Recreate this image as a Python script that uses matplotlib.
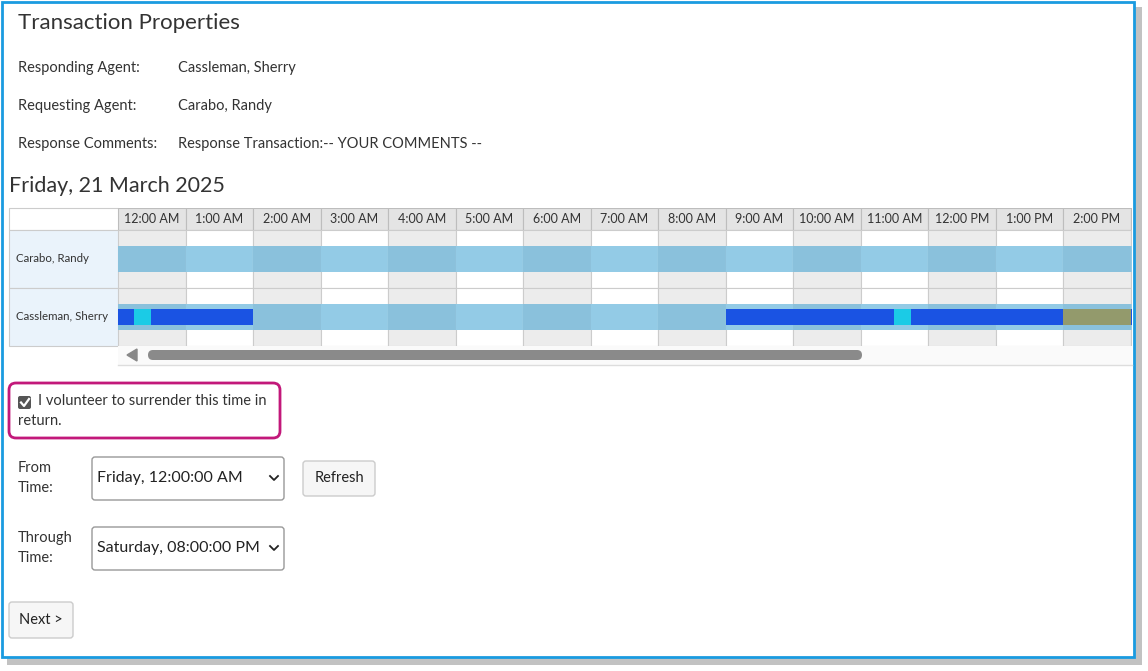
import matplotlib.pyplot as plt
from matplotlib.patches import Rectangle, FancyBboxPatch

plt.rcParams['font.family'] = ['Lato', 'DejaVu Sans']

# data
hour_labels = ['12:00 AM', '1:00 AM', '2:00 AM', '3:00 AM', '4:00 AM', '5:00 AM',
               '6:00 AM', '7:00 AM', '8:00 AM', '9:00 AM', '10:00 AM', '11:00 AM',
               '12:00 PM', '1:00 PM', '2:00 PM', '3:00 PM']
agents = ['Carabo, Randy', 'Cassleman, Sherry']
# (start hour, end hour, colour) for Sherry's shifts
seg_start = [0.0, 0.24, 0.49, 9.0, 11.5, 11.75, 14.0, 15.0]
seg_end = [0.24, 0.49, 2.0, 11.5, 11.75, 14.0, 15.0, 16.0]
seg_color = ['#1a53e3', '#1bcbe6', '#1a53e3', '#1a53e3', '#1bcbe6', '#1a53e3', '#939a6c', '#1a53e3']
props = [('Responding Agent:', 'Cassleman, Sherry'),
         ('Requesting Agent:', 'Carabo, Randy'),
         ('Response Comments:', 'Response Transaction:-- YOUR COMMENTS --')]

W, H = 1148, 671
fig = plt.figure(figsize=(W / 100, H / 100), dpi=100)
ax = fig.add_axes([0, 0, 1, 1])
ax.set_xlim(0, W)
ax.set_ylim(H, 0)
ax.axis('off')

# frame with shadow
ax.add_patch(Rectangle((7, 7), 1135, 658, fc='#a8a8a8', ec='none', alpha=0.7))
ax.add_patch(Rectangle((2, 2), 1132, 655, fc='white', ec='#1a9be0', lw=2))

ax.text(18, 23, 'Transaction Properties', fontsize=16, color='#333', va='center')
for i, (k, v) in enumerate(props):
    y = 68 + i * 38
    ax.text(18, y, k, fontsize=10.5, color='#333', va='center')
    ax.text(178, y, v, fontsize=10.5, color='#333', va='center')
ax.text(9, 186, 'Friday, 21 March 2025', fontsize=15.5, color='#333', va='center')

# left name column
ax.add_patch(Rectangle((9, 208), 109, 22, fc='white', ec='#cccccc', lw=0.8))
for i, a in enumerate(agents):
    y0 = 230 + i * 58
    ax.add_patch(Rectangle((9, y0), 109, 58, fc='#eaf3fb', ec='#cccccc', lw=0.8))
    ax.text(16, y0 + 29, a, fontsize=8.3, color='#333', va='center')

# timeline axes in hour units
x0, x1 = 118, 1132
tl = fig.add_axes([x0 / W, 1 - 346 / H, (x1 - x0) / W, (346 - 208) / H])
hpx = 67.5
tl.set_xlim(0, (x1 - x0) / hpx)
tl.set_ylim(138, 0)
tl.axis('off')
for h, lab in enumerate(hour_labels):
    tl.add_patch(Rectangle((h, 0), 1, 22, fc='#e4e4e4', ec='#bdbdbd', lw=0.8))
    tl.text(h + 0.5, 11, lab, fontsize=9, color='#333', ha='center', va='center', clip_on=True)
    shade = '#ececec' if h % 2 == 0 else 'white'
    band = '#8ac1dc' if h % 2 == 0 else '#93cbe6'
    for r in range(len(agents)):
        y0 = 22 + r * 58
        tl.add_patch(Rectangle((h, y0), 1, 58, fc=shade, ec='#cccccc', lw=0.8))
        tl.add_patch(Rectangle((h, y0 + 16), 1, 26, fc=band, ec='none'))
for s, e, c in zip(seg_start, seg_end, seg_color):
    tl.add_patch(Rectangle((s, 101), e - s, 16, fc=c, ec='none'))

# scrollbar
ax.add_patch(Rectangle((118, 346), 1014, 19, fc='#fafafa', ec='none'))
ax.plot([118, 1132], [365, 365], color='#dddddd', lw=1)
ax.fill([127, 137, 137], [355, 349, 361], color='#888888')
ax.add_patch(FancyBboxPatch((148, 350), 714, 10, boxstyle='round,pad=0,rounding_size=5',
                            fc='#8a8a8a', ec='none'))

# checkbox area
ax.add_patch(FancyBboxPatch((9, 383), 271, 55, boxstyle='round,pad=0,rounding_size=7',
                            fc='white', ec='#c2187a', lw=2))
ax.add_patch(FancyBboxPatch((18, 396), 13, 13, boxstyle='round,pad=0,rounding_size=2',
                            fc='#555555', ec='none'))
ax.plot([21, 24, 29], [402.5, 406, 399], color='white', lw=1.6)
ax.text(38, 401, 'I volunteer to surrender this time in', fontsize=10.5, color='#333', va='center')
ax.text(18, 421, 'return.', fontsize=10.5, color='#333', va='center')

# time selectors
for y, lab, val in [(478, 'From\nTime:', 'Friday, 12:00:00 AM'),
                    (548, 'Through\nTime:', 'Saturday, 08:00:00 PM')]:
    ax.text(18, y, lab, fontsize=10.5, color='#333', va='center', linespacing=1.5)
    ax.add_patch(FancyBboxPatch((92, y - 21), 192, 43, boxstyle='round,pad=0,rounding_size=3',
                                fc='white', ec='#999999', lw=1))
    ax.text(97, y, val, fontsize=11.5, color='#222', va='center')
    ax.plot([270, 274, 278], [y - 2, y + 2, y - 2], color='#222', lw=1.3)

for (bx, by, bw, bh, t) in [(303, 461, 72, 35, 'Refresh'), (9, 602, 64, 36, 'Next >')]:
    ax.add_patch(FancyBboxPatch((bx, by), bw, bh, boxstyle='round,pad=0,rounding_size=3',
                                fc='#f6f6f6', ec='#cccccc', lw=1))
    ax.text(bx + bw / 2, by + bh / 2, t, fontsize=10.5, color='#222', ha='center', va='center')

fig.savefig('out.png', dpi=100)
